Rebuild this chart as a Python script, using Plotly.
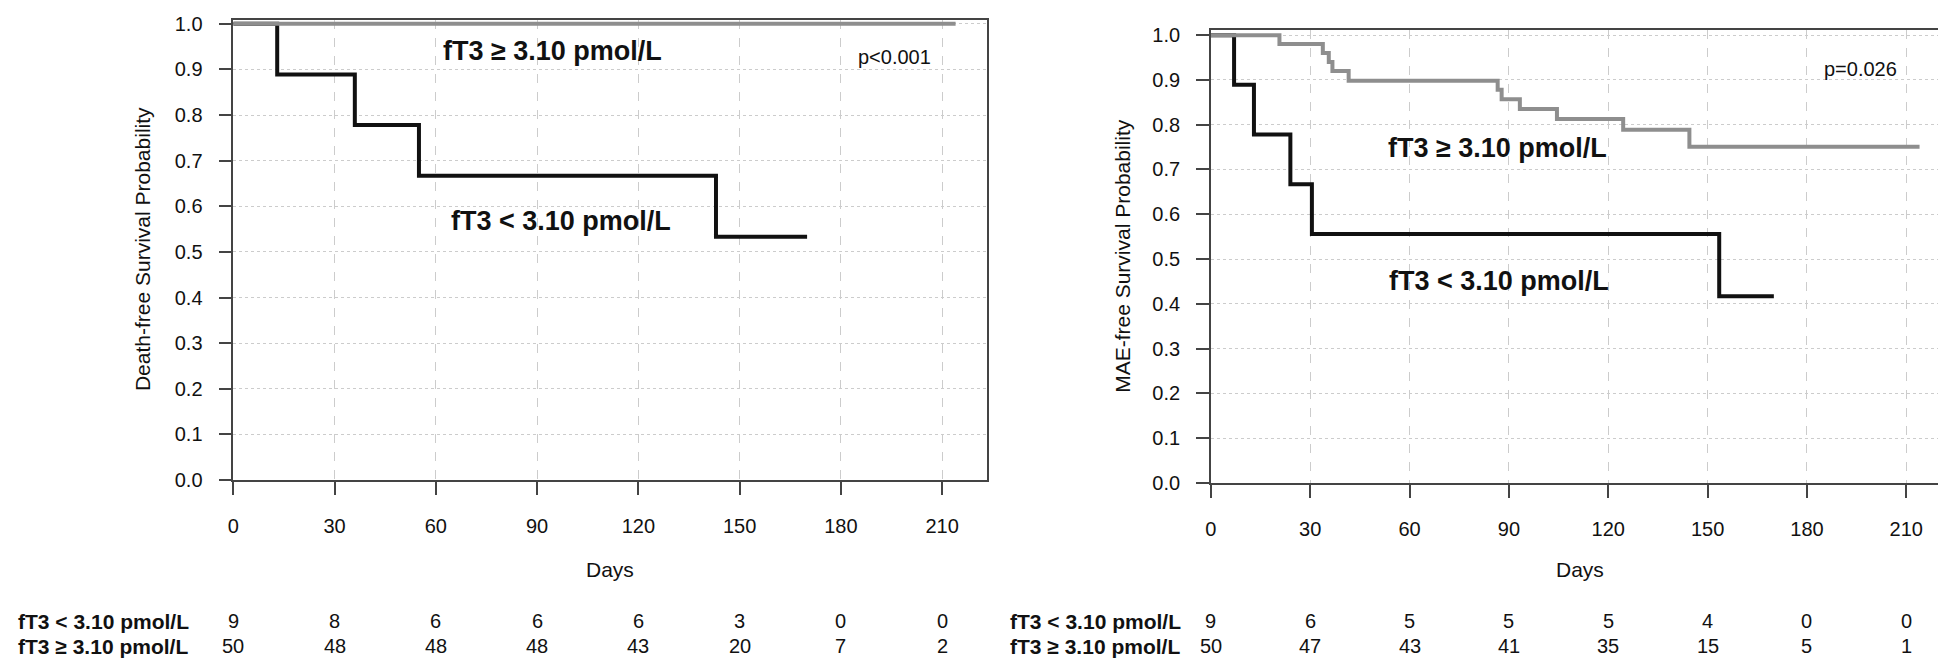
import plotly.graph_objects as go

W, H = 1946, 664

# ---------------- data ----------------
days_ticks = [0, 30, 60, 90, 120, 150, 180, 210]
prob_ticks = [0.0, 0.1, 0.2, 0.3, 0.4, 0.5, 0.6, 0.7, 0.8, 0.9, 1.0]

# Panel A: death-free survival
a_low_t = [0, 13, 36, 55, 143, 170]
a_low_s = [1.0, 0.889, 0.778, 0.667, 0.533, 0.533]
a_high_t = [0, 214]
a_high_s = [1.0, 1.0]
a_risk_low = [9, 8, 6, 6, 6, 3, 0, 0]
a_risk_high = [50, 48, 48, 48, 43, 20, 7, 2]
a_p = "p<0.001"
a_ytitle = "Death-free Survival Probability"

# Panel B: MAE-free survival
b_low_t = [0, 7, 13, 24, 30.5, 153.5, 170]
b_low_s = [1.0, 0.889, 0.778, 0.667, 0.556, 0.417, 0.417]
b_high_t = [0, 20.7, 33.8, 35.6, 36.7, 41.6, 86.6, 87.8, 93.3, 104.5, 124.5, 144.5, 214]
b_high_s = [1.0, 0.98, 0.96, 0.94, 0.92, 0.898, 0.878, 0.857, 0.835, 0.813, 0.789, 0.751, 0.751]
b_risk_low = [9, 6, 5, 5, 5, 4, 0, 0]
b_risk_high = [50, 47, 43, 41, 35, 15, 5, 1]
b_p = "p=0.026"
b_ytitle = "MAE-free Survival Probability"

label_low = "fT3 < 3.10 pmol/L"
label_high = "fT3 \u2265 3.10 pmol/L"
xtitle = "Days"

# ---------------- layout geometry (pixels) ----------------
FONT = "Liberation Sans, Arial, sans-serif"
GREY = "#8e8e8e"
BLACK = "#111111"

def px(x):
    return x / W

def py(y):
    return 1 - y / H

panels = [
    dict(x0=220, x1=976, y0=5, y1=478, xmax=223.3, ytop=1.0085),
    dict(x0=1200.6, x1=1942, y0=15, y1=481, xmax=223.2, ytop=1.0124),
]

fig = go.Figure()

series = [
    (a_low_t, a_low_s, a_high_t, a_high_s, "x", "y"),
    (b_low_t, b_low_s, b_high_t, b_high_s, "x2", "y2"),
]
for lt, ls, ht, hs, xa, ya in series:
    fig.add_trace(go.Scatter(x=lt, y=ls, mode="lines", line=dict(color=BLACK, width=4, shape="hv"),
                             xaxis=xa, yaxis=ya, showlegend=False, hoverinfo="skip"))
    fig.add_trace(go.Scatter(x=ht, y=hs, mode="lines", line=dict(color=GREY, width=4, shape="hv"),
                             xaxis=xa, yaxis=ya, showlegend=False, hoverinfo="skip"))

tickfont = dict(family=FONT, size=20, color=BLACK)
for i, p in enumerate(panels):
    sfx = "" if i == 0 else str(i + 1)
    xaxis = dict(
        domain=[px(p["x0"]), px(p["x1"])], range=[0, p["xmax"]],
        tickvals=days_ticks, ticks="outside", ticklen=13, tickwidth=1.5, tickcolor="#444",
        showline=True, linecolor="#444", linewidth=1.5, mirror=True,
        showgrid=True, gridcolor="#cccccc", gridwidth=1, griddash="dash",
        zeroline=False, tickfont=tickfont, ticklabelstandoff=14,
        anchor="y" + sfx,
    )
    yaxis = dict(
        domain=[py(p["y1"]), py(p["y0"])], range=[0, p["ytop"]],
        tickvals=prob_ticks, tickformat=".1f", ticks="outside", ticklen=13, tickwidth=1.5, tickcolor="#444",
        showline=True, linecolor="#444", linewidth=1.5, mirror=True,
        showgrid=True, gridcolor="#cccccc", gridwidth=1, griddash="dot",
        zeroline=False, tickfont=tickfont, ticklabelstandoff=12,
        anchor="x" + sfx,
    )
    fig.update_layout(**{"xaxis" + sfx: xaxis, "yaxis" + sfx: yaxis})

annotations = []

def ann(text, x, y, xref="paper", yref="paper", size=20, bold=False, xanchor="center", angle=0):
    annotations.append(dict(
        text=("<b>%s</b>" % text) if bold else text, x=x, y=y, xref=xref, yref=yref,
        showarrow=False, xanchor=xanchor, yanchor="middle", textangle=angle,
        font=dict(family=FONT, size=size, color=BLACK),
    ))

# in-plot labels (data coordinates)
ann(label_high, 94.5, 0.94, "x", "y", size=27, bold=True)
ann(label_low, 97.0, 0.567, "x", "y", size=27, bold=True)
ann(a_p, 196, 0.928, "x", "y", size=20)
ann(label_high, 86.5, 0.747, "x2", "y2", size=27, bold=True)
ann(label_low, 87.1, 0.452, "x2", "y2", size=27, bold=True)
ann(b_p, 196.1, 0.925, "x2", "y2", size=20)

# axis titles
ann(a_ytitle, px(129), py(241), size=21, angle=-90)
ann(b_ytitle, px(1112), py(248), size=21, angle=-90)
ann(xtitle, px(598), py(570), size=21)
ann(xtitle, px(1571), py(570), size=21)

# risk tables
risk = [
    (a_risk_low, a_risk_high, panels[0], 2),
    (b_risk_low, b_risk_high, panels[1], 997),
]
for rl, rh, p, lx in risk:
    scale = (p["x1"] - p["x0"]) / p["xmax"]
    ann(label_low, px(lx), py(623), size=21, bold=True, xanchor="left")
    ann(label_high, px(lx), py(649), size=21, bold=True, xanchor="left")
    for d, v1, v2 in zip(days_ticks, rl, rh):
        xx = px(p["x0"] + d * scale)
        ann(str(v1), xx, py(623), size=20)
        ann(str(v2), xx, py(649), size=20)

fig.update_layout(
    width=W, height=H, margin=dict(l=0, r=0, t=0, b=0),
    paper_bgcolor="white", plot_bgcolor="white",
    annotations=annotations, showlegend=False,
)

fig.write_html("out.html")
